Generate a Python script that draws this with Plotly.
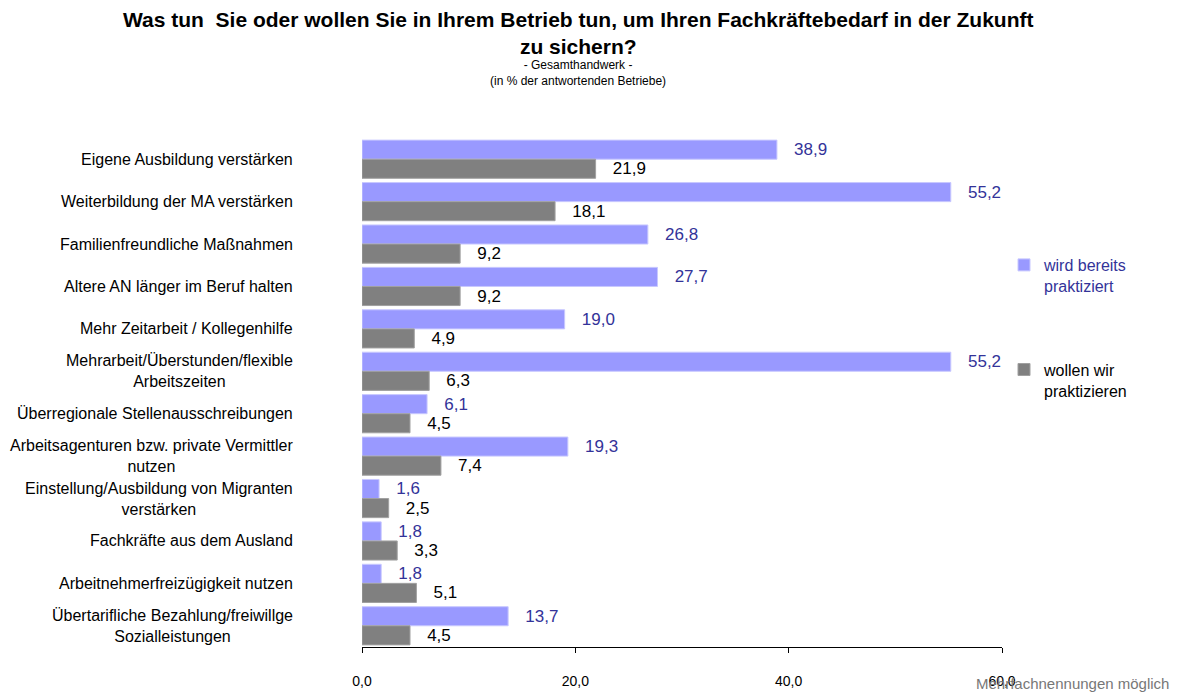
import plotly.graph_objects as go

categories = [
    "Eigene Ausbildung verstärken",
    "Weiterbildung der MA verstärken",
    "Familienfreundliche Maßnahmen",
    "Altere AN länger im Beruf halten",
    "Mehr Zeitarbeit / Kollegenhilfe",
    "Mehrarbeit/Überstunden/flexible<br>Arbeitszeiten",
    "Überregionale Stellenausschreibungen",
    "Arbeitsagenturen bzw. private Vermittler<br>nutzen",
    "Einstellung/Ausbildung von Migranten<br>verstärken",
    "Fachkräfte aus dem Ausland",
    "Arbeitnehmerfreizügigkeit nutzen",
    "Übertarifliche Bezahlung/freiwillge<br>Sozialleistungen",
]
wird_bereits = [38.9, 55.2, 26.8, 27.7, 19.0, 55.2, 6.1, 19.3, 1.6, 1.8, 1.8, 13.7]
wollen_wir = [21.9, 18.1, 9.2, 9.2, 4.9, 6.3, 4.5, 7.4, 2.5, 3.3, 5.1, 4.5]
x_ticks = [0, 20, 40, 60]

PURPLE = "#9999FF"
GRAY = "#808080"
PURPLE_TXT = "#333399"
SANS = "Liberation Sans, Arial, sans-serif"
PAD = "\u00a0\u00a0\u00a0"

fig = go.Figure()
fig.add_trace(go.Bar(
    y=categories, x=wird_bereits, orientation="h",
    name="<span style='color:#333399'>wird bereits<br>praktiziert</span>",
    legendgroup="a",
    marker=dict(color=PURPLE, line=dict(color="#C8C8FF", width=1)),
    texttemplate=PAD + "%{x:.1f}", textposition="outside", cliponaxis=False,
    textfont=dict(family=SANS, size=17, color=PURPLE_TXT),
))
fig.add_trace(go.Bar(
    y=categories, x=wollen_wir, orientation="h",
    name="wollen wir<br>praktizieren",
    legendgroup="b",
    marker=dict(color=GRAY, line=dict(color="#A0A0A0", width=1)),
    texttemplate=PAD + "%{x:.1f}", textposition="outside", cliponaxis=False,
    textfont=dict(family=SANS, size=17, color="#000000"),
))

annotations = []
for c in categories:
    annotations.append(dict(
        text=c, xref="paper", yref="y", x=0, y=c, xanchor="right", yanchor="middle",
        xshift=-67, align="center", showarrow=False,
        font=dict(family=SANS, size=16, color="#000000"),
    ))

annotations += [
    dict(text="<b>Was tun  Sie oder wollen Sie in Ihrem Betrieb tun, um Ihren Fachkräftebedarf in der Zukunft<br>zu sichern?</b>",
         xref="paper", yref="paper", x=0, xshift=578 - 362, y=1, yshift=138 - 6,
         xanchor="center", yanchor="top", showarrow=False, align="center",
         font=dict(family=SANS, size=21, color="#000000")),
    dict(text="- Gesamthandwerk -<br>(in % der antwortenden Betriebe)",
         xref="paper", yref="paper", x=0, xshift=578 - 362, y=1, yshift=138 - 56,
         xanchor="center", yanchor="top", showarrow=False, align="center",
         font=dict(family=SANS, size=12, color="#000000")),
    dict(text="Mehrfachnennungen möglich",
         xref="paper", yref="paper", x=1, xshift=1171 - 1002, y=0, yshift=-47,
         xanchor="right", yanchor="bottom", showarrow=False,
         font=dict(family=SANS, size=15, color="#777777")),
]

fig.update_layout(
    width=1177, height=693,
    margin=dict(l=362, r=175, t=138, b=46, pad=0, autoexpand=False),
    paper_bgcolor="white", plot_bgcolor="white",
    separators=",.",
    barmode="group", bargap=0.1, bargroupgap=0,
    showlegend=True,
    legend=dict(
        x=(1004 - 362) / 640, y=(647 - 248) / 509,
        xanchor="left", yanchor="top", traceorder="grouped",
        tracegroupgap=60, valign="top", bgcolor="rgba(0,0,0,0)",
        itemwidth=30,
        font=dict(family=SANS, size=16, color="#000000"),
    ),
    xaxis=dict(
        range=[0, 60], tickvals=x_ticks, tickformat=".1f",
        showgrid=False, zeroline=False, showline=True, linecolor="#000000", linewidth=1,
        ticks="outside", ticklen=5, tickcolor="#000000",
        ticklabelstandoff=16, automargin=False,
        tickfont=dict(family=SANS, size=14, color="#000000"),
    ),
    yaxis=dict(
        autorange="reversed", showticklabels=False, showgrid=False,
        zeroline=False, showline=False, ticks="", automargin=False,
    ),
    annotations=annotations,
)

fig.write_html(
    "out.html",
    config={"displayModeBar": False},
    post_script="document.body.style.margin='0';document.body.style.padding='0';document.documentElement.style.overflow='hidden';",
)
